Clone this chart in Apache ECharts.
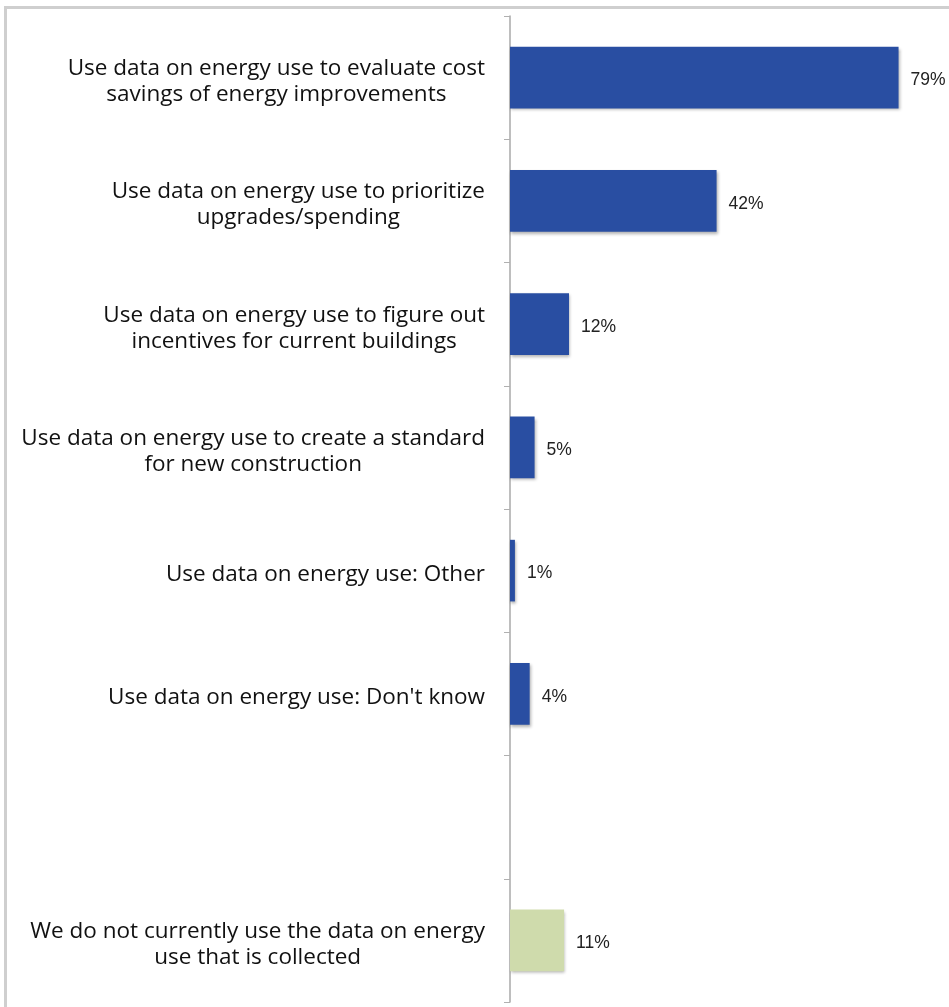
<!DOCTYPE html>
<html>
<head>
<meta charset="utf-8">
<script src="https://cdn.jsdelivr.net/npm/echarts@6/dist/echarts.min.js"></script>
<style>
  html, body { margin: 0; padding: 0; background: #fff; }
  #frame { position: absolute; left: 4px; top: 6px; width: 960px; height: 1020px;
           border-top: 3px solid #cfcfcf; border-left: 3px solid #cfcfcf; }
  #chart { position: absolute; left: 0; top: 0; width: 949px; height: 1007px; }
</style>
</head>
<body>
<div id="frame"></div>
<div id="chart"></div>
<script>
// Survey responses: how energy-use data is used
const categories = [
  'Use data on energy use to evaluate cost\nsavings of energy improvements',
  'Use data on energy use to prioritize\nupgrades/spending',
  'Use data on energy use to figure out\nincentives for current buildings',
  'Use data on energy use to create a standard\nfor new construction',
  'Use data on energy use: Other',
  "Use data on energy use: Don't know",
  '',
  'We do not currently use the data on energy\nuse that is collected'
];
const usePercent = [79, 42, 12, 5, 1, 4, null, 11];
const notUsedIndex = 7;

const blue = '#294ea2';
const green = '#cfdbac';

const chart = echarts.init(document.getElementById('chart'), null, { renderer: 'canvas' });

chart.setOption({
  animation: false,
  backgroundColor: 'transparent',
  grid: { left: 510, top: 16, width: 423, bottom: 5, containLabel: false },
  xAxis: {
    type: 'value', min: 0, max: 86,
    show: false
  },
  yAxis: {
    type: 'category',
    inverse: true,
    data: categories,
    axisLine: { show: true, lineStyle: { color: '#a8a8a8', width: 1.5 } },
    axisTick: { show: true, length: 6, lineStyle: { color: '#b0b0b0', width: 1 } },
    axisLabel: {
      margin: 25,
      align: 'right',
      formatter: v => v ? '{c|' + v + '}' : '',
      rich: {
        c: { align: 'center', fontFamily: '"Open Sans"', fontSize: 22.5, lineHeight: 26,
             color: '#111', padding: [8, 0, 0, 0] }
      }
    }
  },
  series: [{
    type: 'bar',
    barCategoryGap: '50%',
    data: usePercent.map((v, i) => ({
      value: v,
      itemStyle: { color: i === notUsedIndex ? green : blue }
    })),
    itemStyle: {
      shadowColor: 'rgba(0,0,0,0.3)', shadowBlur: 3, shadowOffsetX: 1, shadowOffsetY: 2
    },
    label: {
      show: true, position: 'right', distance: 12,
      formatter: p => p.value == null ? '' : p.value + '%',
      fontFamily: '"Liberation Sans"',
      fontSize: 17.5, color: '#222', offset: [0, 3]
    }
  }]
});
</script>
</body>
</html>
